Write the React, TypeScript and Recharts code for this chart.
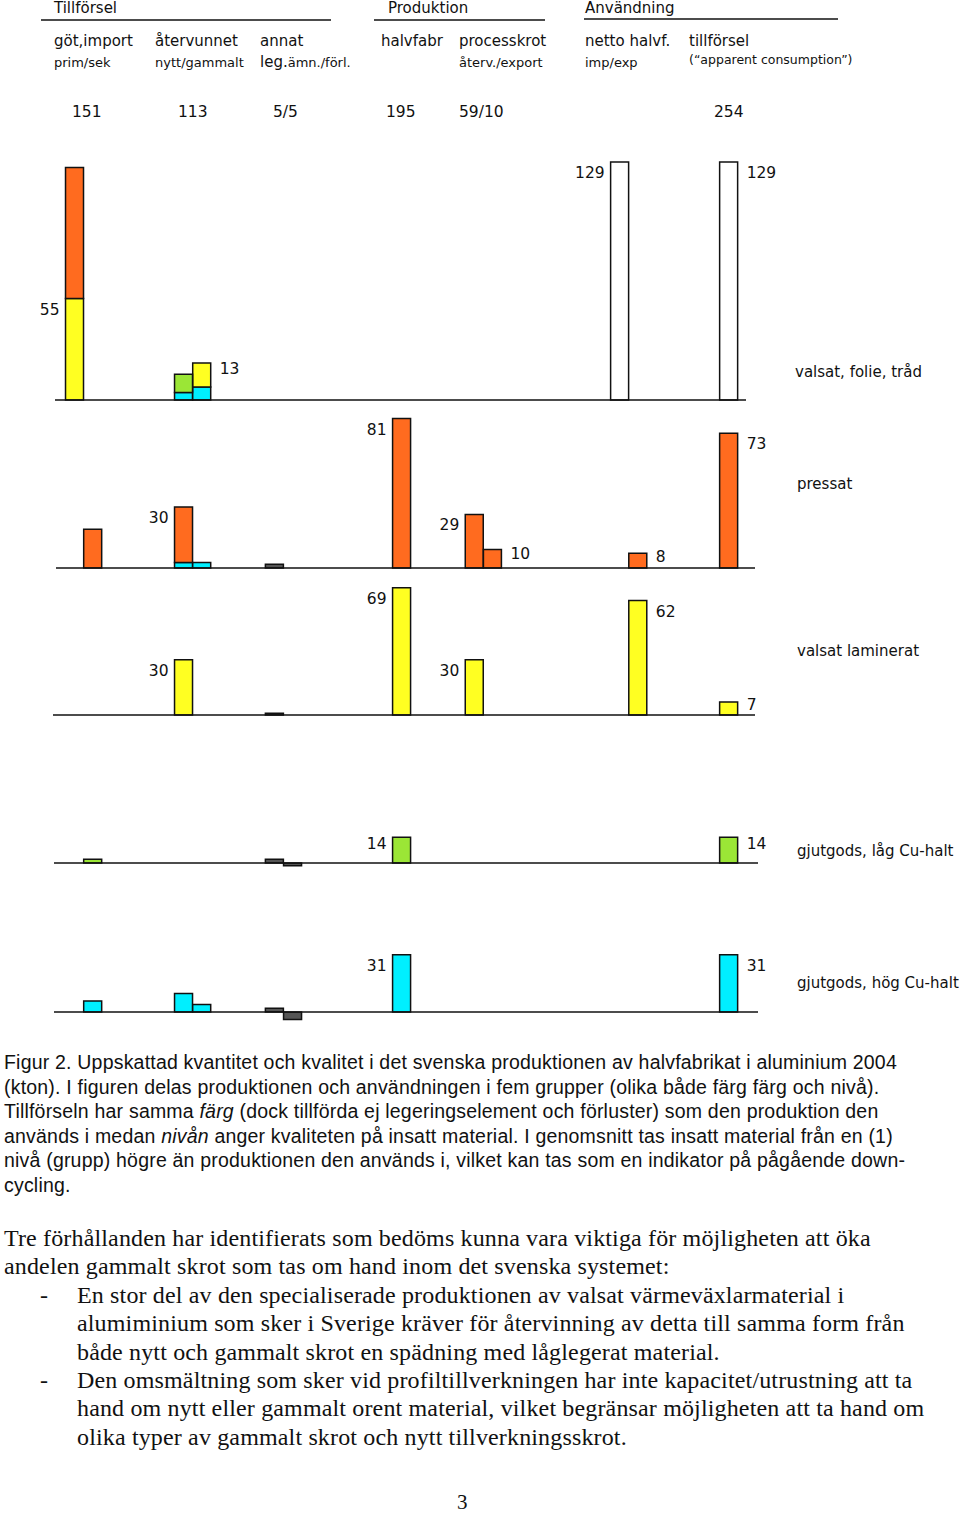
import React from 'react';
import { BarChart, Bar, XAxis, YAxis, ReferenceLine, LabelList } from 'recharts';

// columns of the figure (sub-columns of the header groups)
const columns = [
  'göt prim', 'göt sek', 'återv. nytt', 'återv. gammalt', 'leg.ämn.', 'förl.',
  'halvfabr', 'processkrot återv.', 'processkrot export', 'netto imp', 'netto exp', 'tillförsel',
];

// valsat, folie, tråd
const foilCyan = [null, null, 4, 7, null, null, null, null, null, null, null, null];
const foilYellow = [55, null, null, 13, null, null, null, null, null, null, null, null];
const foilGreen = [null, null, 10, null, null, null, null, null, null, null, null, null];
const foilOrange = [71, null, null, null, null, null, null, null, null, null, null, null];
const foilWhite = [null, null, null, null, null, null, null, null, null, 129, null, 129];

// pressat
const pressCyan = [null, null, 3, 3, null, null, null, null, null, null, null, null];
const pressOrange = [null, 21, 30, null, null, null, 81, 29, 10, null, 8, 73];
const pressGray = [null, null, null, null, 2, null, null, null, null, null, null, null];

// valsat laminerat
const lamYellow = [null, null, 30, null, null, null, 69, 30, null, null, 62, 7];
const lamGray = [null, null, null, null, 1, null, null, null, null, null, null, null];

// gjutgods, låg Cu-halt
const lowGreen = [null, 2, null, null, null, null, 14, null, null, null, null, 14];
const lowGray = [null, null, null, null, 2, -1.5, null, null, null, null, null, null];

// gjutgods, hög Cu-halt
const highCyan = [null, 6, 10, 4, null, null, 31, null, null, null, null, 31];
const highGray = [null, null, null, null, 2, -4, null, null, null, null, null, null];

// which segment gets a number, and on which side
const foilLabels = [['göt prim', 'yellow', 'left'], ['återv. gammalt', 'yellow', 'right'], ['netto imp', 'white', 'left'], ['tillförsel', 'white', 'right']];
const pressLabels = [['återv. nytt', 'orange', 'left'], ['halvfabr', 'orange', 'left'], ['processkrot återv.', 'orange', 'left'], ['processkrot export', 'orange', 'right'], ['netto exp', 'orange', 'right'], ['tillförsel', 'orange', 'right']];
const lamLabels = [['återv. nytt', 'yellow', 'left'], ['halvfabr', 'yellow', 'left'], ['processkrot återv.', 'yellow', 'left'], ['netto exp', 'yellow', 'right'], ['tillförsel', 'yellow', 'right']];
const lowLabels = [['halvfabr', 'green', 'left'], ['tillförsel', 'green', 'right']];
const highLabels = [['halvfabr', 'cyan', 'left'], ['tillförsel', 'cyan', 'right']];

const rowNames = ['valsat, folie, tråd', 'pressat', 'valsat laminerat', 'gjutgods, låg Cu-halt', 'gjutgods, hög Cu-halt'];

const groupTitles = ['Tillförsel', 'Produktion', 'Användning'];
const headTop = ['göt,import', 'återvunnet', 'annat', 'halvfabr', 'processkrot', 'netto halvf.', 'tillförsel'];
const headSub = ['prim/sek', 'nytt/gammalt', 'ämn./förl.', '', 'återv./export', 'imp/exp', '(“apparent consumption”)'];
const totals = ['151', '113', '5/5', '195', '59/10', '254'];

const captionLines = [
  [['Figur 2. Uppskattad kvantitet och kvalitet i det svenska produktionen av halvfabrikat i aluminium 2004']],
  [['(kton). I figuren delas produktionen och användningen i fem grupper (olika både färg färg och nivå).']],
  [['Tillförseln har samma '], ['färg', 'i'], [' (dock tillförda ej legeringselement och förluster) som den produktion den']],
  [['används i medan '], ['nivån', 'i'], [' anger kvaliteten på insatt material. I genomsnitt tas insatt material från en (1)']],
  [['nivå (grupp) högre än produktionen den används i, vilket kan tas som en indikator på pågående down-']],
  [['cycling.']],
];

const bodyLines = [
  ['', 'Tre förhållanden har identifierats som bedöms kunna vara viktiga för möjligheten att öka'],
  ['', 'andelen gammalt skrot som tas om hand inom det svenska systemet:'],
  ['-', 'En stor del av den specialiserade produktionen av valsat värmeväxlarmaterial i'],
  [' ', 'alumiminium som sker i Sverige kräver för återvinning av detta till samma form från'],
  [' ', 'både nytt och gammalt skrot en spädning med låglegerat material.'],
  ['-', 'Den omsmältning som sker vid profiltillverkningen har inte kapacitet/utrustning att ta'],
  [' ', 'hand om nytt eller gammalt orent material, vilket begränsar möjligheten att ta hand om'],
  [' ', 'olika typer av gammalt skrot och nytt tillverkningsskrot.'],
];

// layout
const SLOT = [0, 1, 6, 7, 11, 12, 18, 22, 23, 30, 31, 36];
const SLOT_W = 18.17;
const CENTER0 = 74.6;
const PX = 1.845; // pixels per kton
const ABOVE = 250;
const BELOW = 30;
const SANS = "'DejaVu Sans', Verdana, sans-serif";

const SERIES = [
  { key: 'cyan', fill: '#00efff' },
  { key: 'yellow', fill: '#ffff22' },
  { key: 'green', fill: '#9be636' },
  { key: 'orange', fill: '#ff6b1f' },
  { key: 'gray', fill: '#555555' },
  { key: 'white', fill: '#ffffff' },
];

const rows = [
  { series: { cyan: foilCyan, yellow: foilYellow, green: foilGreen, orange: foilOrange, white: foilWhite }, labels: foilLabels, base: 400, line: [55, 746], nameY: 372 },
  { series: { cyan: pressCyan, orange: pressOrange, gray: pressGray }, labels: pressLabels, base: 568, line: [56, 755], nameY: 484 },
  { series: { yellow: lamYellow, gray: lamGray }, labels: lamLabels, base: 715, line: [53, 755], nameY: 651 },
  { series: { green: lowGreen, gray: lowGray }, labels: lowLabels, base: 863, line: [54, 758], nameY: 851 },
  { series: { cyan: highCyan, gray: highGray }, labels: highLabels, base: 1012, line: [54, 758], nameY: 983 },
];

const renderBarLabel = (props: any) => {
  const vb = props.viewBox ?? props;
  if (!props.value || !vb) return null;
  const [side, text] = String(props.value).split('|');
  const top = Math.min(vb.y, vb.y + vb.height);
  const h = Math.abs(vb.height);
  const cy = top + Math.min(11, h * 0.25);
  const left = side === 'left';
  return (
    <text x={left ? vb.x - 6 : vb.x + vb.width + 9} y={cy} textAnchor={left ? 'end' : 'start'}
      dominantBaseline="central" fontFamily={SANS} fontSize={15.5} fill="#111">
      {text}
    </text>
  );
};

const Row = ({ row }: any) => {
  const data = columns.map((col, i) => {
    const d: any = { col, slot: SLOT[i] };
    SERIES.forEach(s => {
      const arr = row.series[s.key];
      d[s.key] = arr ? arr[i] : null;
    });
    row.labels.forEach(([c, k, side]: string[]) => {
      if (c === col) d[k + 'Label'] = `${side}|${d[k]}`;
    });
    return d;
  });
  const [x0, x1] = row.line;
  const xDomain = [(x0 - CENTER0) / SLOT_W, (x1 - CENTER0) / SLOT_W];
  return (
    <div style={{ position: 'absolute', left: 0, top: row.base - ABOVE }}>
      <BarChart width={960} height={ABOVE + BELOW} data={data} stackOffset="sign" barSize={18}
        margin={{ top: 0, right: 960 - x1, bottom: 0, left: x0 }}>
        <XAxis type="number" dataKey="slot" domain={xDomain} allowDataOverflow hide />
        <YAxis type="number" domain={[-BELOW / PX, ABOVE / PX]} allowDataOverflow hide />
        <ReferenceLine y={0} stroke="#111" strokeWidth={1.6} />
        {SERIES.filter(s => row.series[s.key]).map(s => (
          <Bar key={s.key} dataKey={s.key} stackId="a" fill={s.fill} stroke="#111" strokeWidth={1.5}
            barSize={18} isAnimationActive={false}>
            <LabelList dataKey={s.key + 'Label'} content={renderBarLabel} />
          </Bar>
        ))}
      </BarChart>
    </div>
  );
};

const headX = [54, 155, 260, 381, 459, 585, 689];
const totalX = [72, 178, 273, 386, 459, 714];

export default function App() {
  return (
    <div style={{ position: 'absolute', left: 0, top: 0, width: 960, height: 1514, background: '#fff' }}>
      <svg width={960} height={1514} style={{ position: 'absolute', left: 0, top: 0 }}>
        <g fontFamily={SANS} fill="#111">
          {groupTitles.map((t, i) => (
            <text key={t} x={[54, 388, 585][i]} y={8} dominantBaseline="central" fontSize={15}>{t}</text>
          ))}
          <line x1={41} x2={331} y1={20} y2={20} stroke="#111" strokeWidth={1.5} />
          <line x1={374} x2={545} y1={20} y2={20} stroke="#111" strokeWidth={1.5} />
          <line x1={584} x2={838} y1={19} y2={19} stroke="#111" strokeWidth={1.5} />
          {headTop.map((t, i) => (
            <text key={t} x={headX[i]} y={41} dominantBaseline="central" fontSize={15}>{t}</text>
          ))}
          {headSub.map((t, i) => t && (
            <text key={t} x={headX[i]} y={i === 6 ? 59 : 62} dominantBaseline="central" fontSize={i === 6 ? 12.5 : 13}>
              {i === 2 ? <><tspan fontSize={15}>leg.</tspan>{t}</> : t}
            </text>
          ))}
          {totals.map((t, i) => (
            <text key={t} x={totalX[i]} y={112} dominantBaseline="central" fontSize={15.5}>{t}</text>
          ))}
          {rows.map((r, i) => (
            <text key={i} x={i === 0 ? 795 : 797} y={r.nameY} dominantBaseline="central" fontSize={15}>{rowNames[i]}</text>
          ))}
        </g>
        <g fontFamily="'Liberation Sans', Arial, sans-serif" fontSize={19.5} letterSpacing={0.2} fill="#111">
          {captionLines.map((line, i) => (
            <text key={i} x={4} y={1069 + i * 24.6}>
              {line.map((seg, j) => (
                <tspan key={j} fontStyle={seg[1] === 'i' ? 'italic' : 'normal'}>{seg[0]}</tspan>
              ))}
            </text>
          ))}
        </g>
        <g fontFamily="'Liberation Serif', 'Times New Roman', serif" fontSize={24} letterSpacing={0.15} fill="#111">
          {bodyLines.map(([dash, t], i) => (
            <React.Fragment key={i}>
              {dash.trim() && <text x={40} y={1246 + i * 28.4}>{dash}</text>}
              <text x={dash ? 77 : 4} y={1246 + i * 28.4}>{t}</text>
            </React.Fragment>
          ))}
          <text x={457} y={1509} fontSize={21}>3</text>
        </g>
      </svg>
      {rows.map((r, i) => <Row key={i} row={r} />)}
    </div>
  );
}
